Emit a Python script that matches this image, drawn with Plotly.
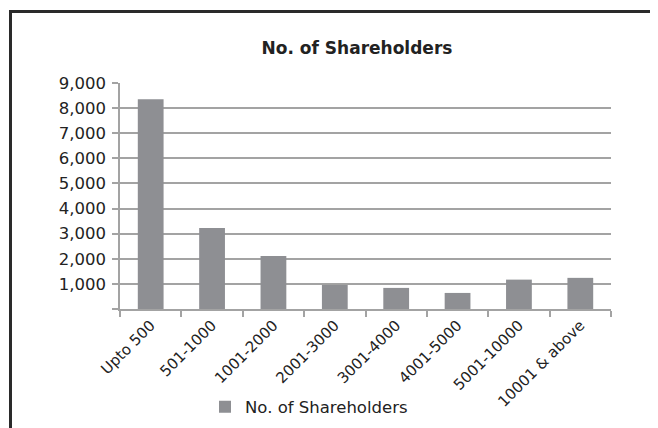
import plotly.graph_objects as go

categories = ["Upto 500", "501-1000", "1001-2000", "2001-3000", "3001-4000",
              "4001-5000", "5001-10000", "10001 & above"]
shareholders = [8350, 3230, 2110, 960, 840, 640, 1170, 1240]
y_ticks = [0, 1000, 2000, 3000, 4000, 5000, 6000, 7000, 8000, 9000]
y_tick_labels = ["", "1,000", "2,000", "3,000", "4,000", "5,000", "6,000", "7,000", "8,000", "9,000"]

# page body has an 8px default margin; lay the figure out in page coordinates
OFF = 8
W, H = 650, 420
# plot area in page coordinates: x 120..611, y 83..309
PX0, PX1, PY0, PY1 = 120, 611, 83, 309
L, T = PX0 - OFF, PY0 - OFF
R, B = W - (PX1 - OFF), H - (PY1 - OFF)
pw, ph = PX1 - PX0, PY1 - PY0

def px_x(x):
    return (x - PX0) / pw

def px_y(y):
    return (PY1 - y) / ph

fig = go.Figure()
fig.add_trace(go.Bar(
    x=categories, y=shareholders, name="No. of Shareholders",
    marker=dict(color="#8e8f93", line=dict(width=0)),
))

font_family = "DejaVu Sans"
fig.update_layout(
    width=W, height=H,
    margin=dict(l=L, r=R, t=T, b=B, autoexpand=False),
    paper_bgcolor="white", plot_bgcolor="white",
    bargap=0.58,
    font=dict(family=font_family, size=16, color="#222222"),
    title=dict(text="<b>No. of Shareholders</b>", xref="container",
               x=(357 - OFF) / W, xanchor="center",
               yref="container", y=1 - (48 - OFF) / H, yanchor="middle",
               font=dict(family=font_family, size=17, color="#222222")),
    showlegend=True,
    legend=dict(orientation="h", x=px_x(309), xanchor="center",
                y=px_y(407), yanchor="middle",
                font=dict(family=font_family, size=16.5, color="#222222")),
    xaxis=dict(showgrid=False, showline=True, linecolor="#a3a3a3", linewidth=1.5,
               ticks="outside", ticklen=6, tickcolor="#a3a3a3", tickwidth=1.5,
               tickson="boundaries", tickangle=-45, automargin=False,
               tickfont=dict(family=font_family, size=15, color="#222222")),
    yaxis=dict(range=[0, 9000], tickvals=y_ticks, ticktext=y_tick_labels,
               showgrid=True, gridcolor="#a3a3a3", gridwidth=1.5,
               showline=True, linecolor="#a3a3a3", linewidth=1.5,
               ticks="outside", ticklen=6, tickcolor="#a3a3a3", tickwidth=1.5,
               zeroline=False, automargin=False, ticklabelstandoff=3,
               tickfont=dict(family=font_family, size=16.5, color="#222222")),
)

# outer frame (top and left edges), page coordinates
fig.add_shape(type="line", xref="paper", yref="paper",
              x0=px_x(9), x1=px_x(680), y0=px_y(11.5), y1=px_y(11.5),
              line=dict(color="#2a2a2a", width=3))
fig.add_shape(type="line", xref="paper", yref="paper",
              x0=px_x(10.5), x1=px_x(10.5), y0=px_y(10), y1=px_y(450),
              line=dict(color="#2a2a2a", width=3))

fig.write_html("out.html")
